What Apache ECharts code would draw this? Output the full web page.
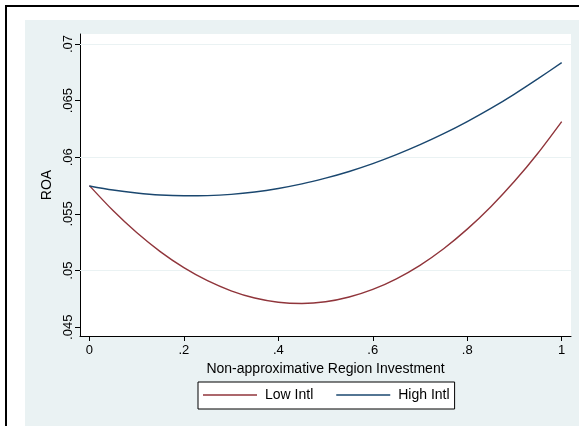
<!DOCTYPE html>
<html>
<head>
<meta charset="utf-8">
<script src="https://cdn.jsdelivr.net/npm/echarts@6/dist/echarts.min.js"></script>
<style>
  html, body { margin: 0; padding: 0; background: #fff; }
  #wrap { position: relative; width: 579px; height: 426px; overflow: hidden; background: #fff; }
  #frame { position: absolute; left: 5px; top: 5px; width: 700px; height: 600px; border: 2px solid #000; box-sizing: border-box; }
  #bg { position: absolute; left: 25px; top: 20px; width: 700px; height: 600px; background: #EAF2F3; }
  #chart { position: absolute; left: 0; top: 0; width: 579px; height: 426px; }
</style>
</head>
<body>
<div id="wrap">
  <div id="frame"></div>
  <div id="bg"></div>
  <div id="chart"></div>
</div>
<script>
// ---- data ----
const xValues = [0, 0.05, 0.1, 0.15, 0.2, 0.25, 0.3, 0.35, 0.4, 0.45, 0.5, 0.55, 0.6, 0.65, 0.7, 0.75, 0.8, 0.85, 0.9, 0.95, 1];
const lowIntl = [0.05750, 0.05530, 0.05336, 0.05168, 0.05026, 0.04911, 0.04822, 0.04758, 0.04721, 0.04710, 0.04725, 0.04767, 0.04834, 0.04928, 0.05047, 0.05193, 0.05366, 0.05564, 0.05788, 0.06038, 0.06315];
const highIntl = [0.05747, 0.05711, 0.05685, 0.05667, 0.05660, 0.05662, 0.05673, 0.05694, 0.05725, 0.05765, 0.05816, 0.05875, 0.05944, 0.06023, 0.06111, 0.06208, 0.06315, 0.06431, 0.06558, 0.06694, 0.06835];
const seriesNames = ['Low Intl', 'High Intl'];
const xTicks = [0, 0.2, 0.4, 0.6, 0.8, 1];
const xTickLabels = ['0', '.2', '.4', '.6', '.8', '1'];
const yTicks = [0.045, 0.05, 0.055, 0.06, 0.065, 0.07];
const yTickLabels = ['.045', '.05', '.055', '.06', '.065', '.07'];
const xTitle = 'Non-approximative Region Investment';
const yTitle = 'ROA';

function labelFor(ticks, labels) {
  return function (v) {
    for (let i = 0; i < ticks.length; i++) {
      if (Math.abs(ticks[i] - v) < 1e-9) return labels[i];
    }
    return '';
  };
}

const font = '"Liberation Sans", Arial, sans-serif';
const chart = echarts.init(document.getElementById('chart'), null, { renderer: 'canvas' });
chart.setOption({
  animation: false,
  backgroundColor: 'transparent',
  textStyle: { fontFamily: font },
  grid: {
    left: 80, top: 34, width: 491, height: 302,
    show: true, backgroundColor: '#ffffff', borderWidth: 0,
    containLabel: false
  },
  legend: {
    left: 198, top: 382,
    orient: 'horizontal',
    data: seriesNames,
    icon: 'rect',
    itemWidth: 54, itemHeight: 1.5,
    itemGap: 23,
    padding: [6, 5, 7, 5],
    backgroundColor: '#ffffff',
    borderColor: '#000000', borderWidth: 1,
    textStyle: { fontFamily: font, fontSize: 14, color: '#000', padding: [0, 0, 0, 3] },
    selectedMode: false
  },
  xAxis: {
    type: 'value',
    min: -0.0199, max: 1.0197,
    name: xTitle,
    nameLocation: 'middle',
    nameGap: 24,
    nameTextStyle: { fontFamily: font, fontSize: 14, color: '#000' },
    axisLine: { show: true, onZero: false, lineStyle: { color: '#000', width: 1 } },
    axisTick: { show: true, length: 5, customValues: xTicks, lineStyle: { color: '#000' } },
    axisLabel: { show: true, customValues: xTicks, formatter: labelFor(xTicks, xTickLabels), fontFamily: font, fontSize: 13, color: '#000', margin: 8 },
    splitLine: { show: false }
  },
  yAxis: {
    type: 'value',
    min: 0.04423, max: 0.07088,
    name: yTitle,
    nameLocation: 'middle',
    nameRotate: 90,
    nameGap: 16,
    nameTextStyle: { fontFamily: font, fontSize: 14, color: '#000' },
    axisLine: { show: true, onZero: false, lineStyle: { color: '#000', width: 1 } },
    axisTick: { show: true, length: 5, customValues: yTicks, lineStyle: { color: '#000' } },
    axisLabel: { show: true, customValues: yTicks, rotate: 90, formatter: labelFor(yTicks, yTickLabels), fontFamily: font, fontSize: 13, color: '#000', margin: 5 },
    splitLine: { show: false }
  },
  series: [
    {
      name: 'grid',
      type: 'line',
      data: [],
      silent: true,
      z: 1,
      markLine: {
        z: 1,
        silent: true,
        symbol: ['none', 'none'],
        label: { show: false },
        lineStyle: { color: '#EAF2F3', width: 1.2, type: 'solid' },
        data: yTicks.map(v => ({ yAxis: v }))
      }
    },
    {
      name: seriesNames[0],
      type: 'line',
      z: 10,
      smooth: 0.3,
      showSymbol: false,
      symbol: 'none',
      color: '#90353B',
      lineStyle: { color: '#90353B', width: 1.4 },
      data: xValues.map((x, i) => [x, lowIntl[i]])
    },
    {
      name: seriesNames[1],
      type: 'line',
      z: 10,
      smooth: 0.3,
      showSymbol: false,
      symbol: 'none',
      color: '#1A476F',
      lineStyle: { color: '#1A476F', width: 1.4 },
      data: xValues.map((x, i) => [x, highIntl[i]])
    }
  ]
});
</script>
</body>
</html>
